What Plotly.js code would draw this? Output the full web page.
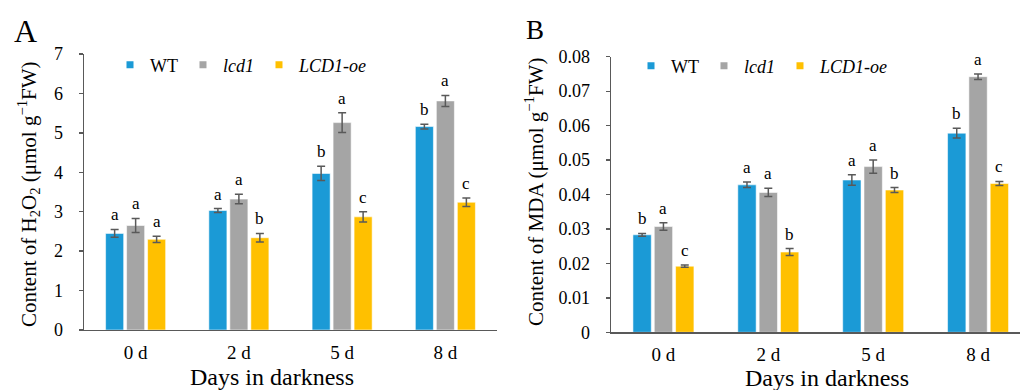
<!DOCTYPE html>
<html>
<head>
<meta charset="utf-8">
<script src="https://cdn.plot.ly/plotly-3.0.1.min.js"></script>
<style>
  html, body { margin: 0; padding: 0; background: #fff; }
  #chart { width: 1020px; height: 390px; }
</style>
</head>
<body>
<div id="chart"></div>
<script>
// Days in darkness (shared categories)
const days = ['0 d', '2 d', '5 d', '8 d'];
const seriesNames = ['WT', 'lcd1', 'LCD1-oe'];
const legendLabels = ['WT', '<i>lcd1</i>', '<i>LCD1-oe</i>'];
const colors = ['#1b9ad6', '#a5a5a5', '#ffc000'];

// Panel A: H2O2 content (µmol g-1 FW)
const h2o2WT = [2.45, 3.03, 3.97, 5.16];
const h2o2Lcd1 = [2.65, 3.32, 5.26, 5.81];
const h2o2Oe = [2.30, 2.34, 2.87, 3.24];
const h2o2WTErr = [0.10, 0.05, 0.18, 0.06];
const h2o2Lcd1Err = [0.18, 0.12, 0.25, 0.14];
const h2o2OeErr = [0.08, 0.11, 0.13, 0.11];
const h2o2WTSig = ['a', 'a', 'b', 'b'];
const h2o2Lcd1Sig = ['a', 'a', 'a', 'a'];
const h2o2OeSig = ['a', 'b', 'c', 'c'];

// Panel B: MDA content (µmol g-1 FW)
const mdaWT = [0.0283, 0.0428, 0.0442, 0.0578];
const mdaLcd1 = [0.0307, 0.0406, 0.0481, 0.0742];
const mdaOe = [0.0192, 0.0233, 0.0413, 0.0432];
const mdaWTErr = [0.0004, 0.0008, 0.0015, 0.0014];
const mdaLcd1Err = [0.0011, 0.0012, 0.0019, 0.0008];
const mdaOeErr = [0.0003, 0.0010, 0.0007, 0.0006];
const mdaWTSig = ['b', 'a', 'a', 'b'];
const mdaLcd1Sig = ['a', 'a', 'a', 'a'];
const mdaOeSig = ['c', 'b', 'b', 'c'];

const W = 1020, H = 390;
const px = v => v / W;
const py = v => 1 - v / H;

const BARGAP = 0.39;
const SERIF = 'Liberation Serif';
const AXIS_COLOR = '#595959';
const baseFont = { family: SERIF, size: 17, color: '#000000' };

const panels = [
  { xa: 'x', ya: 'y', legend: 'legend',
    vals: [h2o2WT, h2o2Lcd1, h2o2Oe], errs: [h2o2WTErr, h2o2Lcd1Err, h2o2OeErr],
    sig: [h2o2WTSig, h2o2Lcd1Sig, h2o2OeSig] },
  { xa: 'x2', ya: 'y2', legend: 'legend2',
    vals: [mdaWT, mdaLcd1, mdaOe], errs: [mdaWTErr, mdaLcd1Err, mdaOeErr],
    sig: [mdaWTSig, mdaLcd1Sig, mdaOeSig] }
];

const traces = [];
const annotations = [];

panels.forEach(p => {
  p.vals.forEach((vals, s) => {
    traces.push({
      type: 'bar', x: days, y: vals, name: seriesNames[s],
      xaxis: p.xa, yaxis: p.ya, showlegend: false,
      marker: { color: colors[s], line: { color: 'rgba(255,255,255,0.55)', width: 1 } },
      error_y: { type: 'data', array: p.errs[s], visible: true,
                 color: AXIS_COLOR, thickness: 1.5, width: 4 },
      hoverinfo: 'x+y'
    });
    // significance letters above each error bar
    const off = (s - 1) * (1 - BARGAP) / 3;
    vals.forEach((v, i) => {
      annotations.push({
        xref: p.xa, yref: p.ya, x: i + off, y: v + p.errs[s][i],
        text: p.sig[s][i], showarrow: false, xanchor: 'center', yanchor: 'bottom',
        yshift: 3, font: { family: SERIF, size: 17, color: '#000000' }
      });
    });
  });
  // legend entries with small square keys
  seriesNames.forEach((n, s) => {
    traces.push({
      type: 'scatter', mode: 'markers', x: [null], y: [null],
      xaxis: p.xa, yaxis: p.ya, legend: p.legend,
      name: legendLabels[s],
      marker: { symbol: 'square', size: 7, color: colors[s] },
      hoverinfo: 'skip'
    });
  });
});

// panel letters and axis titles
const textAnn = (x, y, text, size, angle) => ({
  xref: 'paper', yref: 'paper', x: px(x), y: py(y), text, showarrow: false,
  xanchor: 'center', yanchor: 'middle', textangle: angle || 0,
  font: { family: SERIF, size, color: '#000000' }
});
annotations.push(textAnn(25, 31, 'A', 32));
annotations.push(textAnn(535, 30, 'B', 27));
annotations.push(textAnn(28, 194, 'Content of H<sub>2</sub>O<sub>2</sub> (μmol g<sup>−1</sup>FW)', 21, -90));
annotations.push(textAnn(534, 192, 'Content of MDA (μmol g<sup>−1</sup>FW)', 21, -90));
annotations.push(textAnn(272, 377, 'Days in darkness', 24));
annotations.push(textAnn(827, 378, 'Days in darkness', 24));

const xBase = {
  type: 'category', showline: true, linecolor: AXIS_COLOR, linewidth: 1.3,
  ticks: '', showgrid: false, zeroline: false, ticklabelstandoff: 5,
  tickfont: { family: SERIF, size: 19, color: '#000000' }, fixedrange: true
};
const yBase = {
  showline: true, linecolor: AXIS_COLOR, linewidth: 1.3,
  ticks: 'outside', ticklen: 4, tickcolor: AXIS_COLOR, tickwidth: 1.3,
  showgrid: false, zeroline: false, ticklabelstandoff: 12,
  tickfont: { family: SERIF, size: 18, color: '#000000' }, fixedrange: true
};
const legendBase = {
  orientation: 'h', xanchor: 'left', yanchor: 'middle', bgcolor: 'rgba(0,0,0,0)',
  font: { family: SERIF, size: 18, color: '#000000' }, itemclick: false, itemdoubleclick: false
};

const layout = {
  width: W, height: H,
  font: baseFont,
  margin: { l: 0, r: 0, t: 0, b: 0 },
  paper_bgcolor: '#ffffff', plot_bgcolor: '#ffffff',
  barmode: 'group', bargap: BARGAP, bargroupgap: 0.14,
  xaxis: Object.assign({}, xBase, { domain: [px(84), px(497)], anchor: 'y', range: [-0.5, 3.5] }),
  yaxis: Object.assign({}, yBase, { domain: [py(330), py(54)], anchor: 'x', range: [0, 7], dtick: 1 }),
  xaxis2: Object.assign({}, xBase, { domain: [px(611), 1], anchor: 'y2', range: [-0.5, 3.4] }),
  yaxis2: Object.assign({}, yBase, { domain: [py(332.3), py(56.7)], anchor: 'x2', range: [0, 0.08], dtick: 0.01, tickformat: '.2~f' }),
  legend: Object.assign({}, legendBase, { x: px(110), y: py(65) }),
  legend2: Object.assign({}, legendBase, { x: px(631), y: py(66) }),
  annotations
};

Plotly.newPlot('chart', traces, layout, { displayModeBar: false, staticPlot: true });
</script>
</body>
</html>
